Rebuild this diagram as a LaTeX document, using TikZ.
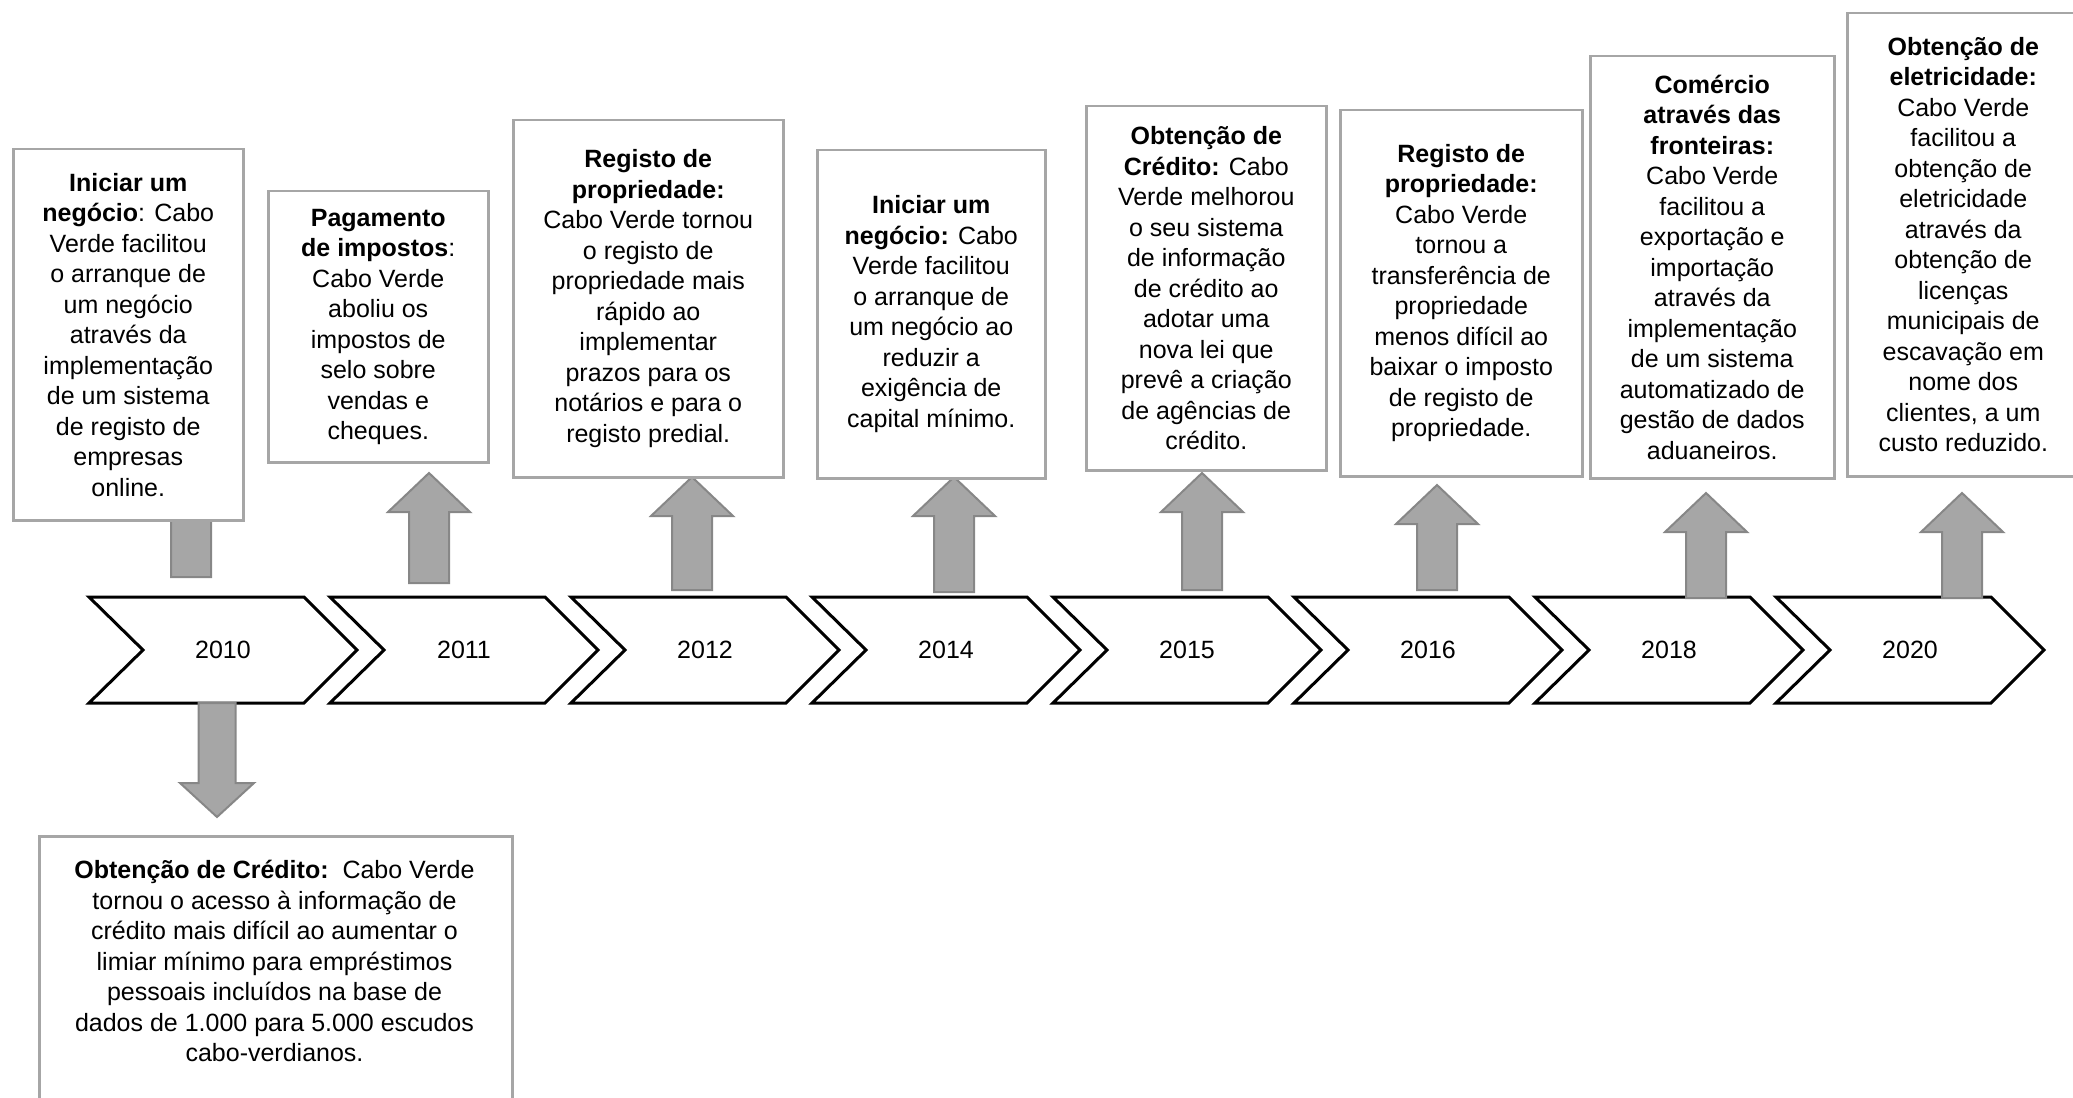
\documentclass[tikz,border=0pt]{standalone}
\usepackage{fontspec}
\setmainfont{Liberation Sans}
\usepackage{xcolor}
\usepackage{tikz}
\usetikzlibrary{positioning,calc}

\definecolor{boxgray}{HTML}{A6A6A6}
\definecolor{arrowfill}{HTML}{A6A6A6}
\definecolor{arrowline}{HTML}{878787}

\tikzset{
    chevron/.style={draw=black, line width=1.2pt, fill=white, line join=miter},
    yearlabel/.style={font=\fontsize{10pt}{12pt}\selectfont, inner sep=0pt},
    infobox/.style={draw=boxgray, line width=1pt, fill=white, align=center, inner sep=0pt,
        anchor=north west, font=\fontsize{10pt}{12.2pt}\selectfont},
    boxtext/.style={align=center, inner sep=0pt, font=\fontsize{10pt}{12.2pt}\selectfont},
    blockarrow/.style={draw=arrowline, fill=arrowfill, line width=0.8pt, line join=miter}
}

\begin{document}
\begin{tikzpicture}[x=0.4pt, y=-0.4pt]
    \useasboundingbox (0,0) rectangle (2073,1098);
    \clip (0,0) rectangle (2073,1098);

    % Timeline of years
    \foreach \yr [count=\i from 0] in {2010,2011,2012,2014,2015,2016,2018,2020}{
        \pgfmathsetmacro{\xo}{89+241*\i}
        \draw[chevron] (\xo,597) -- (\xo+215,597) -- (\xo+268,650) -- (\xo+215,703)
            -- (\xo,703) -- (\xo+54,650) -- cycle;
        \node[yearlabel] (y\yr) at (\xo+134,650) {\yr};
    }

    % Arrows up to the reforms
    \foreach \cx/\tip/\bot in {191/470/577, 429/473/583, 692/477/590, 954/477/592,
                               1202/473/590, 1437/485/590, 1706/493/598, 1962/493/598}{
        \draw[blockarrow] (\cx-20,\bot) -- (\cx-20,\tip+39) -- (\cx-41,\tip+39) -- (\cx,\tip)
            -- (\cx+41,\tip+39) -- (\cx+20,\tip+39) -- (\cx+20,\bot) -- cycle;
    }

    % Arrow down for 2010
    \draw[blockarrow] (198.5,703) -- (198.5,783) -- (180,783) -- (217,817)
        -- (254,783) -- (235.5,783) -- (235.5,703) -- cycle;

    % Reform boxes
    \node[infobox, minimum width=92pt, minimum height=148.4pt] (b2010) at (12,148)
        {\textbf{Iniciar um}\\\textbf{negócio}: Cabo\\Verde facilitou\\o arranque de\\um negócio\\através da\\implementação\\de um sistema\\de registo de\\empresas\\online.};
    \node[infobox, minimum width=88pt, minimum height=108.4pt] (b2011) at (267,190)
        {\textbf{Pagamento}\\\textbf{de impostos}:\\Cabo Verde\\aboliu os\\impostos de\\selo sobre\\vendas e\\cheques.};
    \node[infobox, minimum width=108pt, minimum height=142.8pt] (b2012) at (512,119)
        {\textbf{Registo de}\\\textbf{propriedade:}\\Cabo Verde tornou\\o registo de\\propriedade mais\\rápido ao\\implementar\\prazos para os\\notários e para o\\registo predial.};
    \node[infobox, minimum width=91.2pt, minimum height=131.2pt] (b2014) at (816,149)
        {\textbf{Iniciar um}\\\textbf{negócio:} Cabo\\Verde facilitou\\o arranque de\\um negócio ao\\reduzir a\\exigência de\\capital mínimo.};
    \node[infobox, minimum width=96pt, minimum height=145.6pt] (b2015) at (1085,105)
        {\textbf{Obtenção de}\\\textbf{Crédito:} Cabo\\Verde melhorou\\o seu sistema\\de informação\\de crédito ao\\adotar uma\\nova lei que\\prevê a criação\\de agências de\\crédito.};
    \node[infobox, minimum width=96.8pt, minimum height=146.4pt] (b2016) at (1339,109)
        {\textbf{Registo de}\\\textbf{propriedade:}\\Cabo Verde\\tornou a\\transferência de\\propriedade\\menos difícil ao\\baixar o imposto\\de registo de\\propriedade.};
    \node[infobox, minimum width=97.6pt, minimum height=168.8pt] (b2018) at (1589,55)
        {\textbf{Comércio}\\\textbf{através das}\\\textbf{fronteiras:}\\Cabo Verde\\facilitou a\\exportação e\\importação\\através da\\implementação\\de um sistema\\automatizado de\\gestão de dados\\aduaneiros.};
    \node[infobox, minimum width=92.8pt, minimum height=185.2pt] (b2020) at (1846,12)
        {\textbf{Obtenção de}\\\textbf{eletricidade:}\\Cabo Verde\\facilitou a\\obtenção de\\eletricidade\\através da\\obtenção de\\licenças\\municipais de\\escavação em\\nome dos\\clientes, a um\\custo reduzido.};

    % Box below the timeline
    \node[infobox, minimum width=189.2pt, minimum height=116pt] (b2010d) at (38,835) {};
    \node[boxtext] (t2010d) at (274.5,961)
        {\textbf{Obtenção de Crédito:}~~Cabo Verde\\tornou o acesso à informação de\\crédito mais difícil ao aumentar o\\limiar mínimo para empréstimos\\pessoais incluídos na base de\\dados de 1.000 para 5.000 escudos\\cabo-verdianos.};
\end{tikzpicture}
\end{document}
